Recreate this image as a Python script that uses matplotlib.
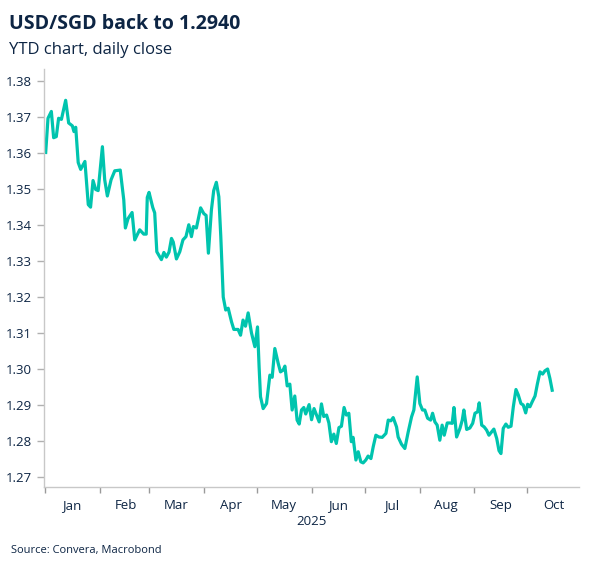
import numpy as np
import matplotlib
matplotlib.use("Agg")
import matplotlib.pyplot as plt
import matplotlib.dates as mdates

# ---- data (days since 1 Jan 2025, USD/SGD close) ----
day_offsets = [0.3, 1.6, 3.5, 4.8, 6.3, 7.6, 9.2, 11.6, 13.3, 15.4, 16.3, 17.3, 18.7, 20.1, 22.5,
               24.4, 25.7, 27.1, 28.6, 30.0, 32.4, 33.7, 35.2, 37.3, 39.4, 42.5, 44.5, 45.4, 46.9,
               49.2, 50.7, 53.5, 55.8, 57.2, 57.8, 58.8, 60.9, 62.0, 63.2, 65.8, 67.2, 68.6, 70.1,
               71.5, 72.5, 74.3, 76.2, 78.0, 79.7, 81.3, 82.8, 83.9, 85.6, 88.0, 89.8, 91.1, 92.4,
               94.1, 95.4, 96.9, 98.3, 99.4, 100.8, 102.2, 103.6, 105.5, 106.8, 109.2, 110.6, 112.0,
               113.4, 114.9, 116.8, 118.7, 120.2, 121.1, 121.9, 123.4, 125.3, 127.2, 128.5, 130.0,
               131.9, 133.2, 134.7, 135.7, 137.0, 138.5, 139.8, 141.3, 142.6, 143.8, 145.1, 146.4,
               147.5, 149.4, 150.8, 152.2, 153.6, 155.1, 156.4, 157.7, 159.3, 160.6, 162.0, 163.4,
               164.8, 166.3, 167.7, 169.2, 170.5, 171.9, 173.3, 174.3, 175.9, 177.2, 178.7, 180.0,
               181.5, 182.8, 184.4, 185.7, 187.2, 188.9, 190.8, 192.9, 194.2, 195.7, 197.0, 198.9,
               199.8, 201.7, 203.6, 205.5, 207.4, 208.7, 210.6, 212.1, 213.6, 214.9, 216.5, 218.2,
               219.3, 220.6, 221.9, 223.4, 224.7, 225.9, 227.6, 229.1, 230.4, 231.4, 232.9, 234.8,
               236.1, 237.0, 238.6, 240.4, 242.0, 243.3, 244.8, 245.7, 247.1, 248.5, 249.9, 251.2,
               252.7, 254.0, 255.6, 256.9, 258.0, 259.3, 260.8, 262.1, 263.7, 265.0, 266.5, 267.8,
               269.3, 270.6, 272.0, 273.1, 274.4, 275.7, 277.3, 278.6, 280.1, 281.6, 282.9, 284.4,
               285.7, 287.0]
usdsgd = [1.3601, 1.3696, 1.3715, 1.3642, 1.3645, 1.3696, 1.3693, 1.3746, 1.3683, 1.3675, 1.3659,
          1.3671, 1.3573, 1.3554, 1.3576, 1.3456, 1.3449, 1.3523, 1.3498, 1.3495, 1.3617, 1.3525,
          1.3480, 1.3525, 1.3550, 1.3552, 1.3469, 1.3391, 1.3417, 1.3434, 1.3358, 1.3386, 1.3374,
          1.3374, 1.3476, 1.3490, 1.3448, 1.3433, 1.3325, 1.3303, 1.3323, 1.3310, 1.3324, 1.3362,
          1.3352, 1.3305, 1.3325, 1.3358, 1.3367, 1.3400, 1.3367, 1.3395, 1.3391, 1.3447, 1.3431,
          1.3426, 1.3321, 1.3441, 1.3495, 1.3518, 1.3478, 1.3369, 1.3199, 1.3163, 1.3168, 1.3130,
          1.3109, 1.3109, 1.3093, 1.3135, 1.3118, 1.3155, 1.3099, 1.3061, 1.3116, 1.3005, 1.2922,
          1.2889, 1.2903, 1.2982, 1.2976, 1.3056, 1.3015, 1.2991, 1.2996, 1.3007, 1.2952, 1.2957,
          1.2885, 1.2924, 1.2857, 1.2846, 1.2885, 1.2892, 1.2874, 1.2900, 1.2858, 1.2889, 1.2871,
          1.2852, 1.2902, 1.2867, 1.2871, 1.2849, 1.2797, 1.2818, 1.2792, 1.2836, 1.2840, 1.2892,
          1.2871, 1.2876, 1.2797, 1.2809, 1.2746, 1.2769, 1.2741, 1.2738, 1.2746, 1.2757, 1.2750,
          1.2783, 1.2815, 1.2810, 1.2809, 1.2820, 1.2857, 1.2855, 1.2864, 1.2838, 1.2810, 1.2790,
          1.2778, 1.2824, 1.2866, 1.2885, 1.2977, 1.2903, 1.2885, 1.2885, 1.2862, 1.2857, 1.2876,
          1.2852, 1.2843, 1.2801, 1.2843, 1.2815, 1.2849, 1.2849, 1.2848, 1.2892, 1.2810, 1.2834,
          1.2857, 1.2885, 1.2831, 1.2835, 1.2848, 1.2876, 1.2880, 1.2905, 1.2843, 1.2838, 1.2829,
          1.2815, 1.2824, 1.2832, 1.2806, 1.2772, 1.2764, 1.2834, 1.2846, 1.2837, 1.2840, 1.2894,
          1.2942, 1.2927, 1.2903, 1.2899, 1.2877, 1.2901, 1.2894, 1.2908, 1.2924, 1.2957, 1.2991,
          1.2985, 1.2994, 1.2999, 1.2973, 1.2940]
month_labels = ["Jan", "Feb", "Mar", "Apr", "May", "Jun", "Jul", "Aug", "Sep", "Oct"]
y_ticks = [1.27, 1.28, 1.29, 1.30, 1.31, 1.32, 1.33, 1.34, 1.35, 1.36, 1.37, 1.38]
year_label = "2025"
title = "USD/SGD back to 1.2940"
subtitle = "YTD chart, daily close"
source = "Source: Convera, Macrobond"

# ---- style ----
NAVY = "#0d2544"
LINE = "#00c4ae"
GREY = "#c8c8c8"
plt.rcParams["font.family"] = ["Open Sans", "DejaVu Sans"]

fig = plt.figure(figsize=(5.92, 5.67), dpi=100)
ax = fig.add_axes([0.0748, 0.1411, 0.9027, 0.7372])

base = mdates.date2num(np.datetime64("2025-01-01"))
x = base + np.asarray(day_offsets)
ax.plot(x, usdsgd, color=LINE, lw=2.3, solid_joinstyle="round")

ax.set_xlim(base - 0.5, base + 302)
ax.set_ylim(1.2671, 1.3833)

month_starts = [mdates.date2num(np.datetime64(f"2025-{m:02d}-01")) for m in range(1, 11)]
month_mids = [mdates.date2num(np.datetime64(f"2025-{m:02d}-16")) for m in range(1, 11)]
ax.set_xticks(month_starts)
ax.set_xticklabels([])
ax.set_xticks(month_mids, minor=True)
ax.set_xticklabels(month_labels, minor=True)
ax.tick_params(axis="x", which="major", length=4, width=1, color="#9a9a9a")
ax.tick_params(axis="x", which="minor", length=0, pad=9, labelsize=9.5, labelcolor=NAVY)

ax.set_yticks(y_ticks)
ax.set_yticklabels([f"{v:.2f}" for v in y_ticks])
ax.tick_params(axis="y", length=5, width=1, color="#b0b0b0", pad=4, labelsize=9.5, labelcolor=NAVY)

ax.set_xlabel(year_label, fontsize=9.5, color=NAVY, labelpad=2)

for s in ["top", "right"]:
    ax.spines[s].set_visible(False)
for s in ["left", "bottom"]:
    ax.spines[s].set_color(GREY)
    ax.spines[s].set_linewidth(1)

fig.text(0.0152, 0.9489, title, fontsize=14, fontweight="bold", color=NAVY, va="baseline")
fig.text(0.0152, 0.9048, subtitle, fontsize=12, color=NAVY, va="baseline")
fig.text(0.0186, 0.025, source, fontsize=8, color=NAVY, va="baseline")

fig.savefig("out.png", dpi=100)
